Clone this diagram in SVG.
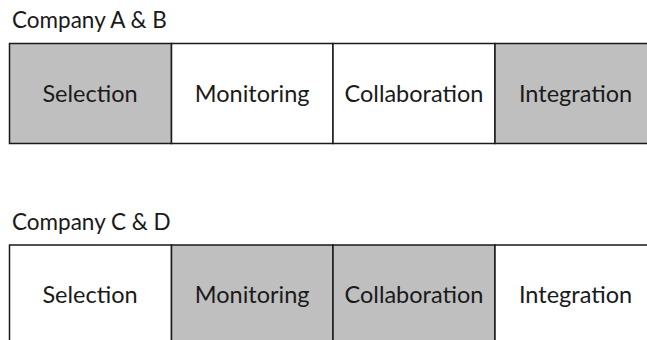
<svg xmlns="http://www.w3.org/2000/svg" width="647" height="340" viewBox="0 0 647 340">
  <style>
    .cell { stroke: #1a1a1a; stroke-width: 1.5; }
    .on { fill: #bfbfbf; }
    .off { fill: #ffffff; }
    .label { font-family: Lato, "Open Sans", "Liberation Sans", sans-serif; font-size: 23.5px; fill: #1a1a1a; text-anchor: middle; }
    .title { font-family: Lato, "Open Sans", "Liberation Sans", sans-serif; font-size: 22.5px; fill: #1a1a1a; }
  </style>
  <rect width="647" height="340" fill="#ffffff"/>

  <!-- Row 1 -->
  <text class="title" x="12" y="28">Company A &amp; B</text>
  <g id="ab-selection">
    <rect class="cell on" x="9.5" y="43.5" width="162" height="100"/>
    <text class="label" x="90" y="101.5">Selection</text>
  </g>
  <g id="ab-monitoring">
    <rect class="cell off" x="171.5" y="43.5" width="161.5" height="100"/>
    <text class="label" x="252.2" y="101.5">Monitoring</text>
  </g>
  <g id="ab-collaboration">
    <rect class="cell off" x="333" y="43.5" width="162" height="100"/>
    <text class="label" x="414" y="101.5">Collaboration</text>
  </g>
  <g id="ab-integration">
    <rect class="cell on" x="495" y="43.5" width="161.5" height="100"/>
    <text class="label" x="575.5" y="101.5">Integration</text>
  </g>

  <!-- Row 2 -->
  <text class="title" x="12" y="229.5">Company C &amp; D</text>
  <g id="cd-selection">
    <rect class="cell off" x="9.5" y="245" width="162" height="100"/>
    <text class="label" x="90" y="303">Selection</text>
  </g>
  <g id="cd-monitoring">
    <rect class="cell on" x="171.5" y="245" width="161.5" height="100"/>
    <text class="label" x="252.2" y="303">Monitoring</text>
  </g>
  <g id="cd-collaboration">
    <rect class="cell on" x="333" y="245" width="162" height="100"/>
    <text class="label" x="414" y="303">Collaboration</text>
  </g>
  <g id="cd-integration">
    <rect class="cell off" x="495" y="245" width="161.5" height="100"/>
    <text class="label" x="575.5" y="303">Integration</text>
  </g>

  <g id="connectors"/>
</svg>
